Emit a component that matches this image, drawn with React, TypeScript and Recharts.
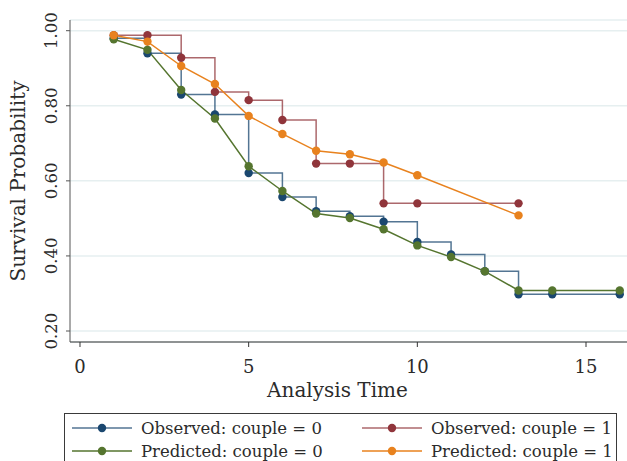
import React from 'react'
import { LineChart, Line, XAxis, YAxis, CartesianGrid } from 'recharts'

// analysis times
const obs0Times = [1, 2, 3, 4, 5, 6, 7, 8, 9, 10, 11, 12, 13, 14, 16]
const obs1Times = [1, 2, 3, 4, 5, 6, 7, 8, 9, 10, 13]

// survival probabilities
const observed0 = [0.98, 0.94, 0.83, 0.777, 0.621, 0.557, 0.519, 0.506, 0.491, 0.437, 0.404, 0.359, 0.298, 0.298, 0.298]
const predicted0 = [0.977, 0.949, 0.842, 0.766, 0.639, 0.573, 0.513, 0.501, 0.471, 0.428, 0.397, 0.359, 0.308, 0.308, 0.308]
const observed1 = [0.988, 0.988, 0.928, 0.837, 0.815, 0.762, 0.646, 0.646, 0.54, 0.54, 0.54]
const predicted1 = [0.988, 0.971, 0.906, 0.858, 0.773, 0.725, 0.68, 0.671, 0.649, 0.615, 0.508]

const xTicks = [0, 5, 10, 15]
const yTicks = [0.2, 0.4, 0.6, 0.8, 1.0]

const FONT = '"DejaVu Serif", serif'
const TEXT = '#2b2b2b'

const series = [
  { name: 'Observed: couple = 0', times: obs0Times, values: observed0, color: '#1a476f', step: true },
  { name: 'Observed: couple = 1', times: obs1Times, values: observed1, color: '#90353b', step: true },
  { name: 'Predicted: couple = 0', times: obs0Times, values: predicted0, color: '#55752f', step: false },
  { name: 'Predicted: couple = 1', times: obs1Times, values: predicted1, color: '#e8821e', step: false },
]

const rows = (times: number[], values: number[]) => times.map((t, i) => ({ t, s: values[i] }))

function YTick({ x, y, payload }: any) {
  return (
    <text
      x={x}
      y={y}
      transform={`rotate(-90 ${x} ${y})`}
      textAnchor="middle"
      dominantBaseline="central"
      fontFamily={FONT}
      fontSize={16.5}
      fill={TEXT}
    >
      {payload.value.toFixed(2)}
    </text>
  )
}

function LegendBox() {
  const item = (s: (typeof series)[number], left: number, top: number) => (
    <div key={s.name} style={{ position: 'absolute', left, top, height: 22, display: 'flex', alignItems: 'center' }}>
      <svg width={62} height={12} style={{ marginRight: 8 }}>
        <line x1={1} y1={6} x2={61} y2={6} stroke={s.color} strokeWidth={1.5} strokeOpacity={s.step ? 0.75 : 1} />
        <circle cx={31} cy={6} r={4.2} fill={s.color} />
      </svg>
      <span style={{ fontFamily: FONT, fontSize: 16.5, color: TEXT, whiteSpace: 'nowrap' }}>{s.name}</span>
    </div>
  )
  return (
    <div
      style={{
        position: 'absolute',
        left: 64,
        top: 413,
        width: 553,
        height: 54,
        border: '1px solid #3a3a3a',
        boxSizing: 'border-box',
      }}
    >
      {item(series[0], 6, 3)}
      {item(series[1], 296, 3)}
      {item(series[2], 6, 26)}
      {item(series[3], 296, 26)}
    </div>
  )
}

export default function App() {
  return (
    <div style={{ position: 'absolute', left: 0, top: 0, width: 627, height: 461, overflow: 'hidden', background: 'white' }}>
      <LineChart width={627} height={461} margin={{ top: 20, right: 0, left: 0, bottom: 73 }}>
        <CartesianGrid vertical={false} stroke="#e6eff0" strokeWidth={1.5} />
        <XAxis
          dataKey="t"
          type="number"
          domain={[-0.296, 16.215]}
          ticks={xTicks}
          allowDataOverflow
          height={46}
          tickSize={5}
          tickMargin={13}
          stroke="#333"
          tick={{ fontFamily: FONT, fontSize: 18, fill: TEXT }}
          label={{
            value: 'Analysis Time',
            position: 'insideBottom',
            offset: -9,
            dx: -11,
            style: { fontFamily: FONT, fontSize: 20, fill: TEXT },
          }}
        />
        <YAxis
          type="number"
          domain={[0.1707, 1.0285]}
          ticks={yTicks}
          allowDataOverflow
          width={70}
          tickSize={4}
          tickMargin={14}
          stroke="#555"
          tick={<YTick />}
          label={{
            value: 'Survival Probability',
            angle: -90,
            position: 'insideLeft',
            offset: 0,
            dx: 18,
            style: { fontFamily: FONT, fontSize: 20, fill: TEXT, textAnchor: 'middle' },
          }}
        />
        {series.map((s) => (
          <Line
            key={s.name}
            data={rows(s.times, s.values)}
            dataKey="s"
            name={s.name}
            type={s.step ? 'stepAfter' : 'linear'}
            stroke={s.color}
            strokeWidth={1.5}
            strokeOpacity={s.step ? 0.75 : 1}
            dot={{ r: 4.2, fill: s.color, stroke: s.color, strokeWidth: 0, fillOpacity: 1 }}
            activeDot={false}
            isAnimationActive={false}
          />
        ))}
      </LineChart>
      <LegendBox />
    </div>
  )
}
